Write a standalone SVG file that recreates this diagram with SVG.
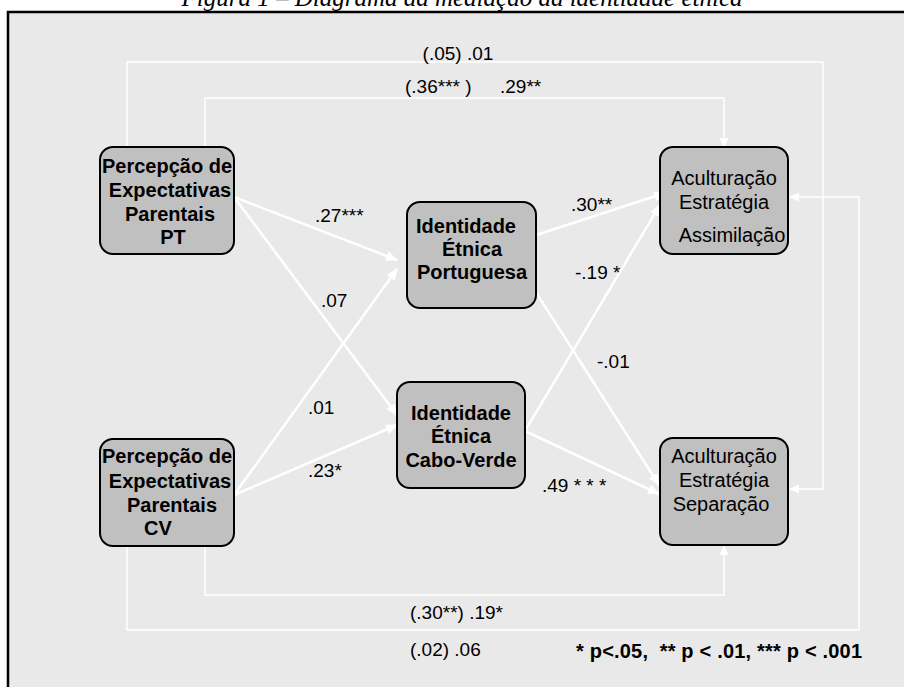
<svg xmlns="http://www.w3.org/2000/svg" width="904" height="687" viewBox="0 0 904 687">
<style>
.box{fill:#c0c0c0;stroke:#000;stroke-width:2}
.bt{font-family:"Liberation Sans",Arial,sans-serif;font-size:20px;font-weight:bold;fill:#000;text-anchor:middle}
.rt{font-family:"Liberation Sans",Arial,sans-serif;font-size:20px;fill:#000;text-anchor:middle}
.lb{font-family:"Liberation Sans",Arial,sans-serif;font-size:19px;fill:#000}
.dg{stroke:#fff;stroke-width:2.5;fill:none;marker-end:url(#ah)}
.rl{stroke:#fff;stroke-width:1.5;fill:none;marker-end:url(#ah2)}
</style>
<defs>
<marker id="ah" markerUnits="userSpaceOnUse" markerWidth="12" markerHeight="10" refX="11" refY="5" orient="auto">
<path d="M0,0 L12,5 L0,10 Z" fill="#fff"/>
</marker>
<marker id="ah2" markerUnits="userSpaceOnUse" markerWidth="10" markerHeight="10" refX="9" refY="5" orient="auto">
<path d="M0,0.5 L10,5 L0,9.5 Z" fill="#fff"/>
</marker>
</defs>
<rect x="0" y="0" width="904" height="687" fill="#fff"/>
<text x="462" y="6" font-family="'Liberation Serif','Times New Roman',serif" font-style="italic" font-size="25" text-anchor="middle" fill="#000">Figura 1 – Diagrama da mediação da identidade étnica</text>
<rect x="8" y="12" width="1000" height="1000" fill="#e9e9e9" stroke="#000" stroke-width="2.5"/>

<g id="connectors">
<path class="rl" d="M127,147 V62 H823 V489 H790"/>
<path class="rl" d="M205,147 V98 H724 V147"/>
<path class="rl" d="M205,546 V595 H724 V546"/>
<path class="rl" d="M127,546 V630 H859 V197 H790"/>
<path class="dg" d="M234,197 L397,260"/>
<path class="dg" d="M234,197 L397,415"/>
<path class="dg" d="M234,495 L397,269"/>
<path class="dg" d="M234,495 L397,425"/>
<path class="dg" d="M530,237 L665,193"/>
<path class="dg" d="M525,431 L660,205"/>
<path class="dg" d="M530,283 L659,485"/>
<path class="dg" d="M525,431 L659,494"/>
</g>

<g id="labels">
<text class="lb" x="458" y="60" text-anchor="middle">(.05) .01</text>
<text class="lb" x="405" y="93">(.36*** )</text>
<text class="lb" x="500" y="93">.29**</text>
<text class="lb" x="315" y="222">.27***</text>
<text class="lb" x="321" y="307">.07</text>
<text class="lb" x="308" y="414">.01</text>
<text class="lb" x="308" y="477">.23*</text>
<text class="lb" x="571" y="211">.30**</text>
<text class="lb" x="575" y="279">-.19 *</text>
<text class="lb" x="597" y="368">-.01</text>
<text class="lb" x="542" y="492">.49 * * *</text>
<text class="lb" x="410" y="619">(.30**) .19*</text>
<text class="lb" x="410" y="656">(.02)  .06</text>
<text x="576" y="658" font-family="'Liberation Sans',Arial,sans-serif" font-size="20" font-weight="bold" fill="#000" textLength="286" lengthAdjust="spacing" xml:space="preserve">* p&lt;.05,  ** p &lt; .01, *** p &lt; .001</text>
</g>

<g id="pt">
<rect class="box" x="100" y="147" width="134" height="107" rx="13"/>
<text class="bt" x="167" y="173">Percepção de</text>
<text class="bt" x="170" y="197">Expectativas</text>
<text class="bt" x="170" y="221">Parentais</text>
<text class="bt" x="173" y="244">PT</text>
</g>
<g id="cv">
<rect class="box" x="100" y="439" width="134" height="107" rx="13"/>
<text class="bt" x="167" y="463">Percepção de</text>
<text class="bt" x="170" y="488">Expectativas</text>
<text class="bt" x="172" y="512">Parentais</text>
<text class="bt" x="158" y="535">CV</text>
</g>
<g id="idpt">
<rect class="box" x="407" y="202" width="129" height="106" rx="13"/>
<text class="bt" x="466" y="233">Identidade</text>
<text class="bt" x="472" y="256">Étnica</text>
<text class="bt" x="472" y="279">Portuguesa</text>
</g>
<g id="idcv">
<rect class="box" x="397" y="382" width="128" height="106" rx="13"/>
<text class="bt" x="461" y="420">Identidade</text>
<text class="bt" x="461" y="443">Étnica</text>
<text class="bt" x="461" y="467">Cabo-Verde</text>
</g>
<g id="assim">
<rect class="box" x="660" y="147" width="128" height="107" rx="13"/>
<text class="rt" x="724" y="185">Aculturação</text>
<text class="rt" x="724" y="209">Estratégia</text>
<text class="rt" x="732" y="242">Assimilação</text>
</g>
<g id="sep">
<rect class="box" x="660" y="438" width="128" height="107" rx="13"/>
<text class="rt" x="724" y="463">Aculturação</text>
<text class="rt" x="724" y="487">Estratégia</text>
<text class="rt" x="721" y="511">Separação</text>
</g>
</svg>
